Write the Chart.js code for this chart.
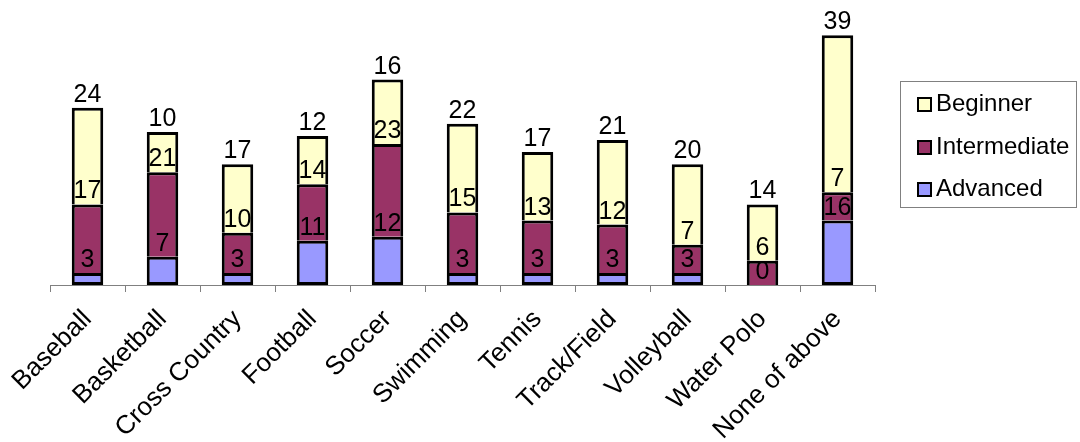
<!DOCTYPE html>
<html>
<head>
<meta charset="utf-8">
<script src="https://cdn.jsdelivr.net/npm/chart.js@4.4.1/dist/chart.umd.min.js"></script>
<style>
    html, body { margin: 0; padding: 0; background: #fff; }
    #wrap { position: relative; width: 1080px; height: 442px; }
    #legend {
        position: absolute; left: 900px; top: 81px; width: 177px; height: 127px;
        border: 1px solid #808080; box-sizing: border-box;
        font-family: "Liberation Sans", Arial, sans-serif; font-size: 24px; color: #000;
    }
    .item { position: absolute; left: 16px; height: 26px; line-height: 26px; white-space: nowrap; }
    .swatch { display: inline-block; width: 11px; height: 11px; border: 2px solid #000; margin-right: 4px; vertical-align: -1px; }
</style>
</head>
<body>
<div id="wrap">
    <canvas id="chart" width="1080" height="442"></canvas>
    <div id="legend"></div>
</div>
<script>
// Sports by skill level
const categories = ['Baseball', 'Basketball', 'Cross Country', 'Football', 'Soccer', 'Swimming',
    'Tennis', 'Track/Field', 'Volleyball', 'Water Polo', 'None of above'];
const advanced = [3, 7, 3, 11, 12, 3, 3, 3, 3, 0, 16];
const intermediate = [17, 21, 10, 14, 23, 15, 13, 12, 7, 6, 7];
const beginner = [24, 10, 17, 12, 16, 22, 17, 21, 20, 14, 39];

const seriesNames = ['Advanced', 'Intermediate', 'Beginner'];
const seriesColors = ['#9999FF', '#993366', '#FFFFCC'];

const FONT = '"Liberation Sans", Arial, sans-serif';

/**
 * Draw value labels just above the top end of each segment
 */
const valueLabels = {
    id: 'valueLabels',
    afterDatasetsDraw(chart) {
        const ctx = chart.ctx;
        ctx.save();
        ctx.font = '25px ' + FONT;
        ctx.fillStyle = '#000';
        ctx.textAlign = 'center';
        ctx.textBaseline = 'alphabetic';
        chart.data.datasets.forEach((ds, i) => {
            const meta = chart.getDatasetMeta(i);
            meta.data.forEach((bar, j) => {
                ctx.fillText(String(ds.data[j]), bar.x, bar.y - 6);
            });
        });
        ctx.restore();
    }
};

const datasets = [advanced, intermediate, beginner].map((values, i) => ({
    label: seriesNames[i],
    data: values,
    backgroundColor: seriesColors[i],
    borderColor: '#000',
    borderWidth: 3,
    // upper segments share the border of the one below
    borderSkipped: i === 0 ? false : 'start',
    barPercentage: 0.42,
    categoryPercentage: 1.0
}));

new Chart(document.getElementById('chart'), {
    type: 'bar',
    data: { labels: categories, datasets: datasets },
    plugins: [valueLabels],
    options: {
        responsive: false,
        animation: false,
        layout: { padding: { top: 3, left: 50, right: 205, bottom: 0 } },
        plugins: {
            legend: { display: false },
            tooltip: { enabled: false }
        },
        scales: {
            x: {
                stacked: true,
                grid: {
                    offset: true,
                    drawOnChartArea: false,
                    drawTicks: true,
                    tickLength: 7,
                    color: '#808080'
                },
                border: { display: true, color: '#808080', width: 1 },
                ticks: {
                    color: '#000',
                    font: { family: FONT, size: 26 },
                    minRotation: 45,
                    maxRotation: 45,
                    padding: 12,
                    autoSkip: false
                },
                afterFit(scale) {
                    scale.height = 157;
                }
            },
            y: {
                stacked: true,
                display: false,
                min: 0,
                max: 70
            }
        }
    }
});

// Legend, listed top to bottom as in the original
const legend = document.getElementById('legend');
[2, 1, 0].forEach((s, row) => {
    const item = document.createElement('div');
    item.className = 'item';
    item.style.top = (8 + row * 42.5) + 'px';
    item.innerHTML = '<span class="swatch" style="background:' + seriesColors[s] + '"></span>' + seriesNames[s];
    legend.appendChild(item);
});
</script>
</body>
</html>
